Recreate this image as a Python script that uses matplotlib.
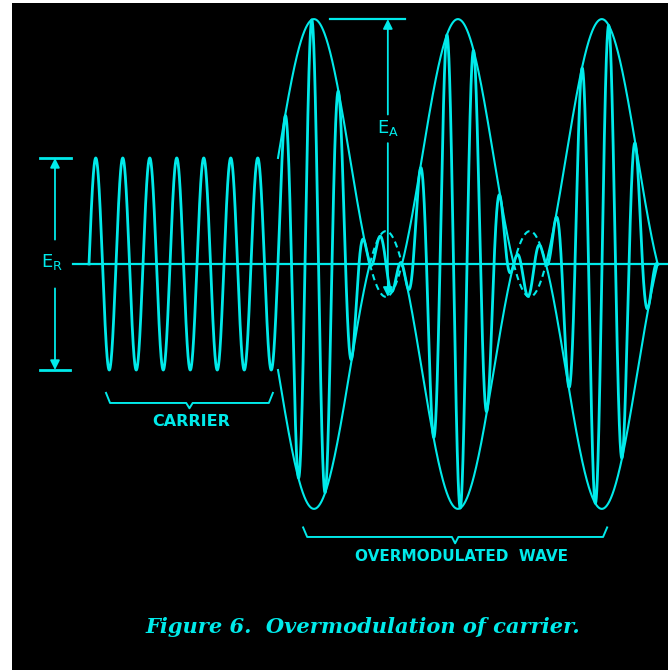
import matplotlib.pyplot as plt
import numpy as np

# values (x in carrier cycles, y in units of carrier amplitude)
carrier_cycles = 7          # unmodulated carrier cycles before modulation starts
carrier_amp = 1.0           # E_R
mod_index = 1.31            # m > 1 -> overmodulated
mod_period = 5.33           # modulating period, in carrier cycles
mod_peaks = 2.64            # modulating cycles drawn (ends where envelope hits zero)

labels = ['CARRIER', 'OVERMODULATED  WAVE']
caption = 'Figure 6.  Overmodulation of carrier.'

cyan = '#00eaea'

fig = plt.figure(figsize=(6.68, 6.70), dpi=100, facecolor='white')
ax = fig.add_axes([12/668, 0, 656/668, 667/670])
ax.set_facecolor('black')
for s in ax.spines.values():
    s.set_visible(False)
ax.set_xticks([])
ax.set_yticks([])
ax.set_xlim(-2.852, 21.444)
ax.set_ylim(-3.830, 2.462)

# waveform
t0 = carrier_cycles
t_end = t0 + mod_peaks * mod_period
t = np.linspace(0, t_end, 6000)
env = np.where(t < t0, carrier_amp,
               carrier_amp * (1 + mod_index * np.sin(2*np.pi*(t - t0)/mod_period)))
wave = env * np.sin(2*np.pi*t)

ax.plot([-0.6, 21.9], [0, 0], color=cyan, lw=1.6)
ax.plot(t, wave, color=cyan, lw=2.0, solid_joinstyle='round')

# envelope, dashed where it goes negative
tm = t[t >= t0]
em = env[t >= t0]
pos = np.ma.masked_where(em < 0, em)
neg = np.ma.masked_where(em >= 0, em)
ax.plot(tm, pos, color=cyan, lw=1.5)
ax.plot(tm, -pos, color=cyan, lw=1.5)
ax.plot(tm, neg, color=cyan, lw=1.5, ls=(0, (3, 2)))
ax.plot(tm, -neg, color=cyan, lw=1.5, ls=(0, (3, 2)))

# E_R dimension
xr = -1.26
ax.plot([-1.8, -0.65], [carrier_amp, carrier_amp], color=cyan, lw=2)
ax.plot([-1.8, -0.72], [-carrier_amp, -carrier_amp], color=cyan, lw=2)
arw = dict(arrowstyle='-|>', color=cyan, lw=1.3, mutation_scale=14, shrinkA=0, shrinkB=0)
ax.annotate('', xy=(xr, carrier_amp), xytext=(xr, 0.23), arrowprops=arw)
ax.annotate('', xy=(xr, -carrier_amp), xytext=(xr, -0.23), arrowprops=arw)
ax.text(xr - 0.1, 0.02, r'$\mathregular{E_R}$', color=cyan, fontsize=13,
        ha='center', va='center')

# E_A dimension
xa = t0 + 0.75 * mod_period
top = carrier_amp * (1 + mod_index)
bot = carrier_amp * (1 - mod_index)
ax.plot([8.93, 11.7], [top, top], color=cyan, lw=1.6)
ax.annotate('', xy=(xa + 0.07, top), xytext=(xa + 0.07, 1.41), arrowprops=arw)
ax.annotate('', xy=(xa + 0.07, bot), xytext=(xa + 0.07, 1.14), arrowprops=arw)
ax.text(xa + 0.07, 1.28, r'$\mathregular{E_A}$', color=cyan, fontsize=13,
        ha='center', va='center')


def bracket(x0, x1, y, h=0.095, d=0.05):
    xm = (x0 + x1) / 2
    xs = [x0, x0 + 0.15, xm - 0.12, xm, xm + 0.12, x1 - 0.15, x1]
    ys = [y + h, y, y, y - d, y, y, y + h]
    ax.plot(xs, ys, color=cyan, lw=1.4)
    return xm


xm = bracket(0.63, 6.81, -1.311)
ax.text(xm + 0.05, -1.49, labels[0], color=cyan, fontsize=11.5, weight='bold',
        ha='center', va='center')
xm = bracket(7.93, 19.19, -2.575, h=0.09, d=0.06)
ax.text(xm + 0.25, -2.764, labels[1], color=cyan, fontsize=11, weight='bold',
        ha='center', va='center')

fig.text(0.543, 0.064, caption, color=cyan, fontsize=15.1, ha='center', va='center',
         family='DejaVu Serif', style='italic', weight='bold')

plt.savefig('out.png', dpi=100, facecolor='white')
